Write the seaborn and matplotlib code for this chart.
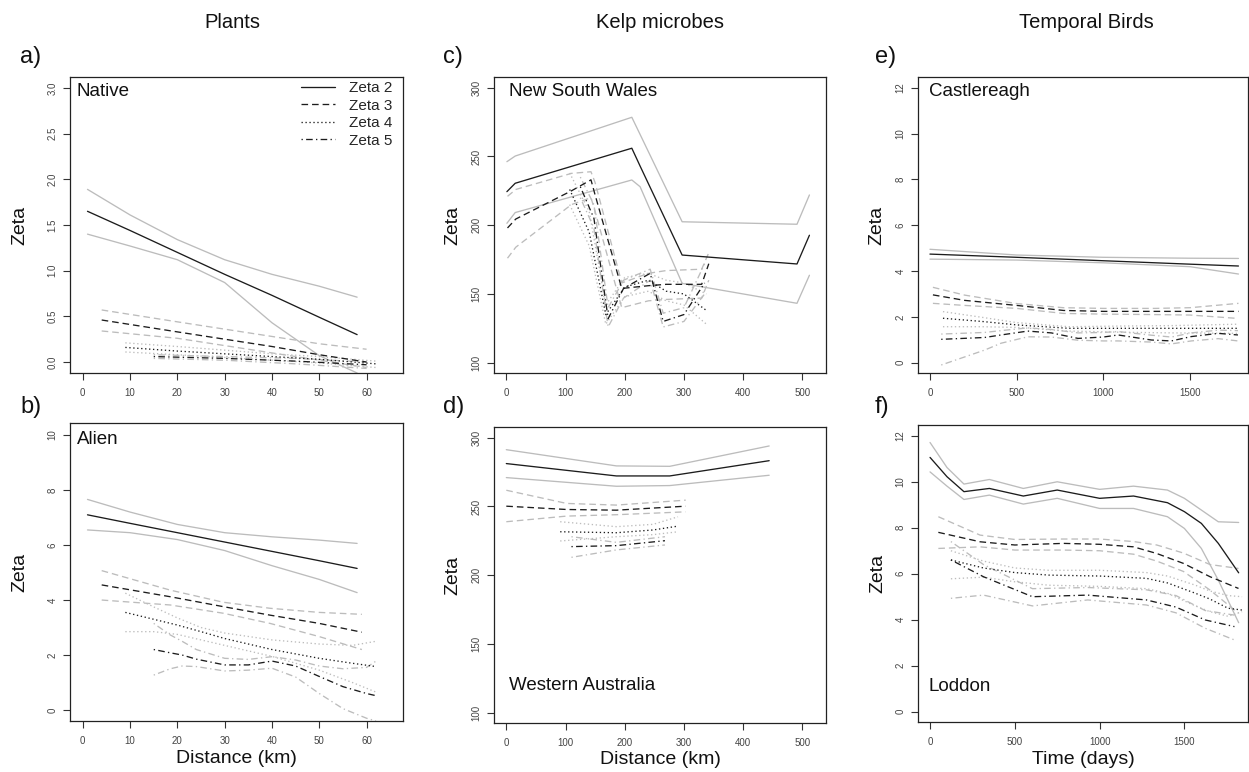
import pandas as pd
import seaborn as sns
import matplotlib.pyplot as plt

# values: x, fitted zeta (mean) and the two grey bounds (hi / lo)

# a) Plants - Native
native = {
    "Zeta 2": dict(x=[1, 10, 20, 30, 40, 50, 58],
                   mean=[1.65, 1.44, 1.20, 0.96, 0.73, 0.49, 0.30],
                   hi=[1.89, 1.61, 1.34, 1.12, 0.96, 0.83, 0.71],
                   lo=[1.40, 1.27, 1.12, 0.87, 0.43, 0.07, -0.12]),
    "Zeta 3": dict(x=[4, 20, 30, 40, 50, 60],
                   mean=[0.46, 0.33, 0.25, 0.17, 0.08, 0.00],
                   hi=[0.57, 0.44, 0.36, 0.28, 0.20, 0.14],
                   lo=[0.34, 0.26, 0.18, 0.10, 0.02, -0.06]),
    "Zeta 4": dict(x=[9, 20, 30, 40, 50, 62],
                   mean=[0.16, 0.12, 0.09, 0.06, 0.03, -0.02],
                   hi=[0.21, 0.17, 0.13, 0.09, 0.06, 0.01],
                   lo=[0.11, 0.08, 0.05, 0.02, -0.01, -0.06]),
    "Zeta 5": dict(x=[15, 30, 45, 60],
                   mean=[0.06, 0.04, 0.01, -0.03],
                   hi=[0.08, 0.06, 0.04, 0.00],
                   lo=[0.04, 0.02, -0.02, -0.07]),
}

# b) Plants - Alien
alien = {
    "Zeta 2": dict(x=[1, 10, 20, 30, 40, 50, 58],
                   mean=[7.10, 6.79, 6.45, 6.11, 5.77, 5.43, 5.15],
                   hi=[7.66, 7.20, 6.75, 6.45, 6.30, 6.18, 6.06],
                   lo=[6.55, 6.45, 6.20, 5.80, 5.25, 4.75, 4.27]),
    "Zeta 3": dict(x=[4, 18.5, 29.7, 39.6, 50, 59],
                   mean=[4.55, 4.12, 3.76, 3.45, 3.15, 2.83],
                   hi=[5.07, 4.36, 3.92, 3.70, 3.55, 3.48],
                   lo=[4.00, 3.82, 3.52, 3.15, 2.67, 2.20]),
    "Zeta 4": dict(x=[9, 15, 20, 25, 30, 40, 50, 57, 62],
                   mean=[3.55, 3.30, 3.09, 2.85, 2.60, 2.20, 1.88, 1.70, 1.58],
                   hi=[4.25, 3.75, 3.35, 3.00, 2.80, 2.55, 2.40, 2.35, 2.50],
                   lo=[2.85, 2.85, 2.75, 2.55, 2.35, 1.95, 1.45, 1.00, 0.65]),
    "Zeta 5": dict(x=[15, 18.5, 21, 24, 30, 35, 40, 45, 50, 55, 60, 62],
                   mean=[2.20, 2.08, 2.00, 1.85, 1.64, 1.64, 1.78, 1.60, 1.22, 0.85, 0.60, 0.52],
                   hi=[3.15, 2.73, 2.50, 2.20, 1.88, 1.84, 1.94, 1.82, 1.60, 1.50, 1.55, 1.78],
                   lo=[1.27, 1.50, 1.60, 1.58, 1.42, 1.45, 1.52, 1.20, 0.60, 0.05, -0.30, -0.40]),
}

# c) Kelp microbes - New South Wales
nsw = {
    "Zeta 2": dict(x=[1, 15, 212, 226, 297, 491, 512],
                   mean=[224.4, 230.5, 256.0, 243.0, 178.3, 171.8, 192.7],
                   hi=[246.2, 250.3, 278.5, 266.0, 202.5, 200.7, 222.0],
                   lo=[201.4, 209.2, 232.9, 228.0, 157.7, 143.2, 163.6]),
    "Zeta 3": dict(x=[2, 16, 110, 143, 150, 195, 240, 270, 330, 342],
                   mean=[198, 204.5, 225, 233, 222, 154, 156, 157, 157, 172],
                   hi=[221, 226, 237.7, 238.9, 231, 158, 165, 167, 168, 180],
                   lo=[176, 184, 215, 220, 210, 140, 145, 146, 147, 160]),
    "Zeta 4": dict(x=[107, 140, 168, 200, 240, 270, 300, 338],
                   mean=[226, 195, 135, 155, 160, 152, 150, 138],
                   hi=[238, 210, 142, 162, 165, 160, 158, 150],
                   lo=[215, 185, 128, 148, 152, 145, 142, 128]),
    "Zeta 5": dict(x=[125, 148, 172, 198, 243, 265, 300, 335],
                   mean=[228, 205, 132, 154, 165, 130, 135, 158],
                   hi=[235, 215, 140, 160, 168, 136, 140, 172],
                   lo=[220, 198, 126, 147, 160, 126, 130, 150]),
}

# d) Kelp microbes - Western Australia
wa = {
    "Zeta 2": dict(x=[0, 186, 276, 444],
                   mean=[281.2, 272.2, 272.2, 283.3],
                   hi=[291.3, 279.5, 279.2, 294.0],
                   lo=[271.0, 264.7, 265.2, 272.7]),
    "Zeta 3": dict(x=[0, 102, 186, 303],
                   mean=[250.2, 247.8, 247.3, 250.2],
                   hi=[261.8, 252.2, 251.0, 254.6],
                   lo=[238.9, 243.0, 244.0, 246.1]),
    "Zeta 4": dict(x=[91, 186, 248, 290],
                   mean=[231.6, 230.9, 232.9, 235.7],
                   hi=[238.9, 235.3, 237.0, 242.5],
                   lo=[224.9, 228.0, 229.5, 231.6]),
    "Zeta 5": dict(x=[110, 186, 268],
                   mean=[220.8, 221.5, 225.1],
                   hi=[228.0, 223.9, 228.0],
                   lo=[213.0, 218.4, 222.0]),
}

# e) Temporal birds - Castlereagh
castlereagh = {
    "Zeta 2": dict(x=[0, 500, 1000, 1500, 1779],
                   mean=[4.74, 4.60, 4.45, 4.30, 4.22],
                   hi=[4.95, 4.70, 4.60, 4.56, 4.55],
                   lo=[4.52, 4.48, 4.36, 4.19, 3.87]),
    "Zeta 3": dict(x=[17, 200, 500, 770, 1000, 1300, 1500, 1779],
                   mean=[2.96, 2.72, 2.50, 2.28, 2.24, 2.24, 2.24, 2.24],
                   hi=[3.29, 2.95, 2.58, 2.40, 2.37, 2.37, 2.40, 2.59],
                   lo=[2.59, 2.50, 2.37, 2.15, 2.12, 2.10, 2.08, 1.93]),
    "Zeta 4": dict(x=[75, 300, 500, 800, 1100, 1400, 1779],
                   mean=[1.94, 1.80, 1.65, 1.50, 1.50, 1.50, 1.50],
                   hi=[2.23, 1.98, 1.75, 1.57, 1.60, 1.62, 1.68],
                   lo=[1.57, 1.57, 1.54, 1.38, 1.33, 1.30, 1.28]),
    "Zeta 5": dict(x=[65, 315, 410, 564, 700, 854, 1000, 1085, 1277, 1392, 1507, 1662, 1776],
                   mean=[1.02, 1.10, 1.21, 1.38, 1.30, 1.06, 1.12, 1.21, 0.99, 0.95, 1.14, 1.28, 1.21],
                   hi=[1.25, 1.32, 1.40, 1.52, 1.45, 1.30, 1.32, 1.36, 1.20, 1.12, 1.30, 1.42, 1.40],
                   lo=[-0.10, 0.55, 0.85, 1.13, 1.12, 0.98, 0.95, 0.95, 0.90, 0.82, 0.95, 1.05, 0.95]),
}

# f) Temporal birds - Loddon
loddon = {
    "Zeta 2": dict(x=[0, 100, 200, 350, 550, 750, 1000, 1200, 1400, 1500, 1600, 1700, 1820],
                   mean=[11.06, 10.22, 9.57, 9.71, 9.38, 9.64, 9.28, 9.38, 9.09, 8.70, 8.19, 7.32, 6.04],
                   hi=[11.71, 10.62, 9.90, 10.10, 9.71, 10.00, 9.67, 9.81, 9.64, 9.28, 8.77, 8.26, 8.23],
                   lo=[10.43, 9.81, 9.23, 9.42, 9.03, 9.28, 8.84, 8.84, 8.48, 7.97, 7.10, 5.72, 3.87]),
    "Zeta 3": dict(x=[49, 295, 500, 786, 1000, 1200, 1337, 1494, 1651, 1819],
                   mean=[7.80, 7.39, 7.25, 7.32, 7.28, 7.17, 6.88, 6.45, 5.87, 5.36],
                   hi=[8.48, 7.68, 7.49, 7.51, 7.51, 7.40, 7.25, 6.90, 6.40, 6.23],
                   lo=[7.10, 7.17, 7.03, 7.03, 7.00, 6.85, 6.55, 6.10, 5.29, 4.28]),
    "Zeta 4": dict(x=[123, 315, 500, 700, 1000, 1276, 1400, 1565, 1650, 1757, 1840],
                   mean=[6.60, 6.25, 6.05, 5.94, 5.90, 5.80, 5.60, 5.15, 4.90, 4.50, 4.42],
                   hi=[7.00, 6.55, 6.25, 6.15, 6.15, 6.05, 5.90, 5.50, 5.25, 5.05, 5.00],
                   lo=[5.78, 5.85, 5.65, 5.50, 5.45, 5.35, 5.15, 4.60, 4.35, 4.15, 4.35]),
    "Zeta 5": dict(x=[123, 315, 604, 930, 1276, 1450, 1622, 1795],
                   mean=[6.60, 5.87, 5.00, 5.07, 4.86, 4.55, 3.99, 3.70],
                   hi=[7.40, 6.40, 5.35, 5.40, 5.30, 5.05, 4.40, 4.20],
                   lo=[4.93, 5.07, 4.60, 4.86, 4.64, 4.30, 3.63, 3.12]),
}

panel_data = {"a": native, "b": alien, "c": nsw, "d": wa, "e": castlereagh, "f": loddon}
panel_names = {"a": "Native", "b": "Alien", "c": "New South Wales",
               "d": "Western Australia", "e": "Castlereagh", "f": "Loddon"}
col_titles = ["Plants", "Kelp microbes", "Temporal Birds"]
orders = ["Zeta 2", "Zeta 3", "Zeta 4", "Zeta 5"]

rows = []
for p, curves in panel_data.items():
    for order, c in curves.items():
        for band in ("hi", "lo", "mean"):
            for xv, yv in zip(c["x"], c[band]):
                rows.append((p, order, band, xv, yv))
df = pd.DataFrame(rows, columns=["panel", "order", "band", "x", "y"])

sns.set_theme(style="ticks")
plt.rcParams["font.family"] = ["Liberation Sans", "DejaVu Sans"]

dashes = {"Zeta 2": "-", "Zeta 3": (0, (5, 3)), "Zeta 4": (0, (1, 2)),
          "Zeta 5": (0, (1, 2.5, 5, 2.5))}

W, H = 1249, 772
fig = plt.figure(figsize=(W / 100, H / 100), dpi=100)

# axes boxes in pixels: left, top, right, bottom
boxes = {"a": (70, 77, 403, 373), "b": (70, 423, 403, 721),
         "c": (494, 77, 826, 373), "d": (494, 427, 826, 723),
         "e": (918, 77, 1248, 373), "f": (918, 425, 1248, 722)}
xlims = {"a": (-2.7, 67.7), "b": (-2.7, 67.7), "c": (-20.8, 540), "d": (-20.8, 540),
         "e": (-69, 1834), "f": (-71, 1875)}
ylims = {"a": (-0.12, 3.12), "b": (-0.4, 10.44), "c": (92.5, 307.8), "d": (92.5, 307.8),
         "e": (-0.45, 12.47), "f": (-0.45, 12.47)}
xticks = {"a": range(0, 61, 10), "b": range(0, 61, 10), "c": range(0, 501, 100),
          "d": range(0, 501, 100), "e": range(0, 1501, 500), "f": range(0, 1501, 500)}
yticks = {"a": [0, 0.5, 1, 1.5, 2, 2.5, 3], "b": range(0, 11, 2), "c": range(100, 301, 50),
          "d": range(100, 301, 50), "e": range(0, 13, 2), "f": range(0, 13, 2)}
ylab_x = {"a": -0.150, "b": -0.150, "c": -0.123, "d": -0.123, "e": -0.124, "f": -0.122}
name_pos = {"a": (0.021, 0.95), "b": (0.021, 0.943), "c": (0.045, 0.95),
            "d": (0.045, 0.128), "e": (0.033, 0.95), "f": (0.033, 0.121)}
xlabels = {"b": "Distance (km)", "d": "Distance (km)", "f": "Time (days)"}

axes = {}
for p, (x0, y0, x1, y1) in boxes.items():
    ax = fig.add_axes([x0 / W, 1 - y1 / H, (x1 - x0) / W, (y1 - y0) / H])
    axes[p] = ax
    sub = df[df.panel == p]
    for (order, band), g in sub.groupby(["order", "band"], sort=False):
        is_mean = band == "mean"
        kw = dict(color="#1c1c1c" if is_mean else "#bcbcbc", lw=0.95,
                  linestyle=dashes[order], zorder=3 if is_mean else 2)
        if p == "a" and is_mean:
            kw["label"] = order
        sns.lineplot(data=g, x="x", y="y", ax=ax, estimator=None, sort=False, **kw)

    ax.set_xlim(*xlims[p])
    ax.set_ylim(*ylims[p])
    ax.set_xticks(list(xticks[p]))
    ax.set_yticks(list(yticks[p]))
    ax.set_yticklabels([f"{t:.1f}" if p == "a" else f"{t:g}" for t in yticks[p]])
    ax.tick_params(axis="both", direction="out", length=5, width=0.8, color="#333333",
                   labelsize=7, labelcolor="#444444", pad=4)
    ax.tick_params(axis="x", pad=6)
    ax.tick_params(axis="y", labelrotation=90)
    for lab in ax.get_yticklabels():
        lab.set_va("center")
    for s in ax.spines.values():
        s.set_visible(True)
        s.set_color("#222222")
        s.set_linewidth(0.9)

    ax.set_ylabel("Zeta", fontsize=14, color="#111111", va="center")
    ax.yaxis.set_label_coords(ylab_x[p], 0.5)
    if p in xlabels:
        ax.set_xlabel(xlabels[p], fontsize=14, color="#111111", va="center")
        ax.xaxis.set_label_coords(0.5, -0.125)
    else:
        ax.set_xlabel("")

    nx, ny = name_pos[p]
    ax.text(nx, ny, panel_names[p], transform=ax.transAxes, fontsize=13.5,
            ha="left", va="center", color="#111111")

# legend in panel a
leg_lines = [l for l in axes["a"].get_lines() if l.get_label() in orders]
leg_lines.sort(key=lambda l: orders.index(l.get_label()))
axes["a"].legend(handles=leg_lines, labels=orders, loc="upper left",
                 bbox_to_anchor=(0.695, 0.985), frameon=False, fontsize=11,
                 handlelength=2.2, handletextpad=0.9, labelspacing=0.22,
                 borderpad=0, borderaxespad=0)

# column titles and panel letters
for title, cx in zip(col_titles, [232, 660, 1086]):
    fig.text(cx / W, 1 - 22 / H, title, ha="center", va="center", fontsize=14.5, color="#111111")
letters = {"a": (20, 57), "b": (20, 407), "c": (443, 57), "d": (443, 407),
           "e": (875, 57), "f": (875, 407)}
for p, (lx, ly) in letters.items():
    fig.text(lx / W, 1 - ly / H, p + ")", ha="left", va="center", fontsize=17, color="#111111")

fig.savefig("out.png", dpi=100)
